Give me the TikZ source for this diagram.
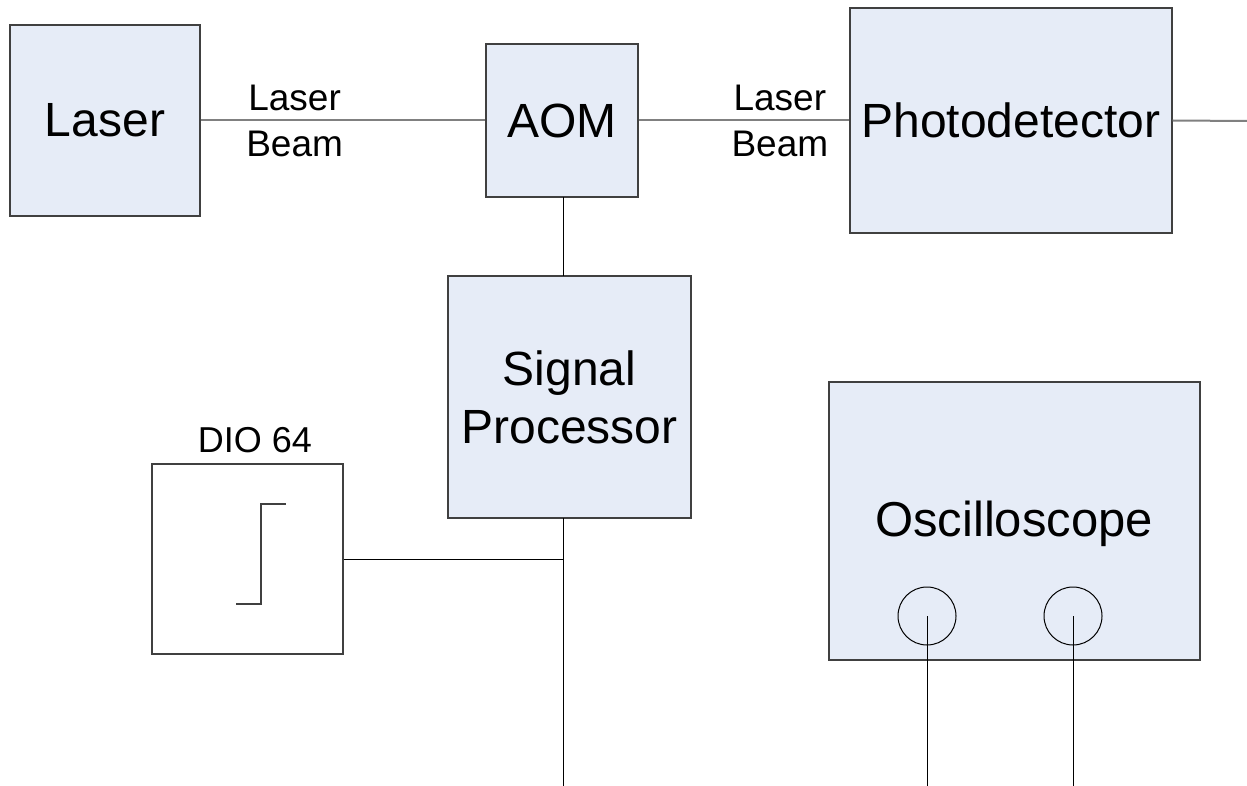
\documentclass[tikz,border=0pt]{standalone}
\usepackage{fontspec}
\setmainfont{Liberation Sans}
\definecolor{boxfill}{RGB}{230,236,247}
\definecolor{boxline}{RGB}{64,64,64}
\definecolor{beamline}{RGB}{128,128,128}
\begin{document}
\begin{tikzpicture}[x=1pt,y=1pt,
  blk/.style={draw=boxline,line width=1.3pt,fill=boxfill,inner sep=0pt,
    font=\fontsize{48}{58}\selectfont,align=center},
  plain/.style={draw=boxline,line width=1.3pt,fill=white,inner sep=0pt},
  beam/.style={draw=beamline,line width=2pt},
  wire/.style={draw=black,line width=1pt},
  lbl/.style={font=\fontsize{37}{46}\selectfont,align=center,inner sep=0pt},
  port/.style={circle,draw=black,line width=1pt,minimum size=58pt,inner sep=0pt}]
\useasboundingbox (0,0) rectangle (1247,-786);
% blocks
\node[blk,minimum width=190pt,minimum height=191pt] (laser) at (105,-120.5) {Laser};
\node[blk,minimum width=152pt,minimum height=153pt] (aom) at (562,-120.5) {AOM};
\node[blk,minimum width=322pt,minimum height=225pt] (pd) at (1011,-120.5) {Photodetector};
\node[blk,minimum width=243pt,minimum height=242pt] (sp) at (569.5,-397) {Signal\\Processor};
\node[plain,minimum width=191pt,minimum height=190pt] (dio) at (247.5,-559) {};
\node[font=\fontsize{36}{44}\selectfont,anchor=base,inner sep=0pt] (diolbl) at (255,-452) {DIO 64};
\node[blk,minimum width=371pt,minimum height=278pt] (osc) at (1014.5,-521) {};
\node[font=\fontsize{49}{58}\selectfont,anchor=base,inner sep=0pt] (osclbl) at (1014,-536) {Oscilloscope};
\node[port] (p1) at (927,-616) {};
\node[port] (p2) at (1073,-616) {};
% free ends
\coordinate (pdout) at (1247,-121);
\coordinate (spbot) at (563,-786);
\coordinate (p1end) at (927,-786);
\coordinate (p2end) at (1073,-786);
\coordinate (junc) at (563,-559);
% beams
\draw[beam] (laser.east) -- node[lbl,pos=0.33] (lb1) {Laser\\Beam} (aom.west);
\draw[beam] (aom.east) -- node[lbl,pos=0.67] (lb2) {Laser\\Beam} (pd.west);
\draw[beam] (pd.east) -- (pdout);
% wires
\draw[wire] (563,-197.5) -- (563,-276);
\draw[wire] (563,-518) -- (spbot);
\draw[wire] (dio.east) -- (junc);
\draw[wire] (p1.center) -- (p1end);
\draw[wire] (p2.center) -- (p2end);
% step symbol inside DIO
\draw[draw=boxline,line width=1.3pt] (236,-604) -- (261,-604) -- (261,-504) -- (286,-504);
\end{tikzpicture}
\end{document}
